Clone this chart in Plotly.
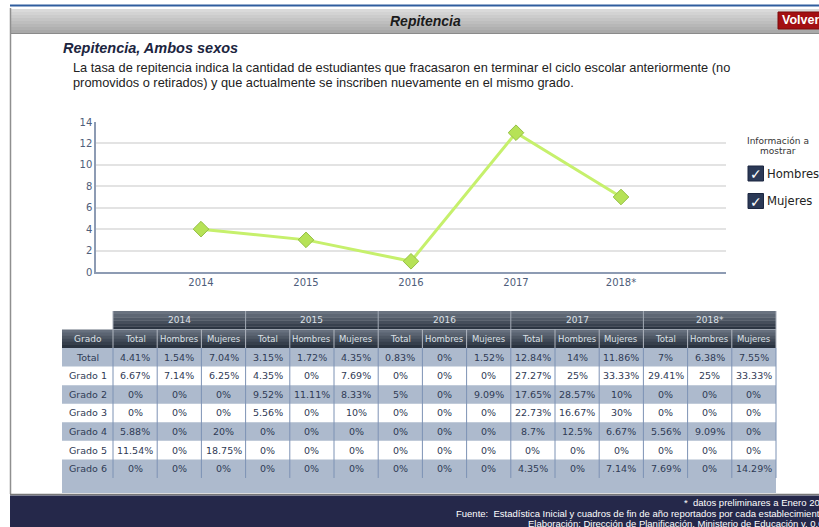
import plotly.graph_objects as go

# ---------------- data ----------------
years = ["2014", "2015", "2016", "2017", "2018*"]
chart_values = [4, 3, 1, 13, 7]
y_tick_values = [0, 2, 4, 6, 8, 10, 12, 14]

sub_headers = ["Total", "Hombres", "Mujeres"]
grades = ["Total", "Grado 1", "Grado 2", "Grado 3", "Grado 4", "Grado 5", "Grado 6"]

rates_2014 = [[4.41, 1.54, 7.04], [6.67, 7.14, 6.25], [0, 0, 0], [0, 0, 0],
              [5.88, 0, 20], [11.54, 0, 18.75], [0, 0, 0]]
rates_2015 = [[3.15, 1.72, 4.35], [4.35, 0, 7.69], [9.52, 11.11, 8.33], [5.56, 0, 10],
              [0, 0, 0], [0, 0, 0], [0, 0, 0]]
rates_2016 = [[0.83, 0, 1.52], [0, 0, 0], [5, 0, 9.09], [0, 0, 0],
              [0, 0, 0], [0, 0, 0], [0, 0, 0]]
rates_2017 = [[12.84, 14, 11.86], [27.27, 25, 33.33], [17.65, 28.57, 10], [22.73, 16.67, 30],
              [8.7, 12.5, 6.67], [0, 0, 0], [4.35, 0, 7.14]]
rates_2018 = [[7, 6.38, 7.55], [29.41, 25, 33.33], [0, 0, 0], [0, 0, 0],
              [5.56, 9.09, 0], [0, 0, 0], [7.69, 0, 14.29]]
table_rates = [rates_2014, rates_2015, rates_2016, rates_2017, rates_2018]

page_title = "Repitencia"
subtitle = "Repitencia, Ambos sexos"
description = [
    "La tasa de repitencia indica la cantidad de estudiantes que fracasaron en terminar el ciclo escolar anteriormente (no",
    "promovidos o retirados) y que actualmente se inscriben nuevamente en el mismo grado.",
]
legend_title = ["Información a", "mostrar"]
legend_items = ["Hombres", "Mujeres"]
footer_lines = [
    "*  datos preliminares a Enero 2019",
    "Fuente:  Estadística Inicial y cuadros de fin de año reportados por cada establecimiento",
    "Elaboración: Dirección de Planificación, Ministerio de Educación v. 0.0004",
]

# ---------------- geometry helpers ----------------
W, H = 819, 527
PL, PR, PT, PB = 96, 726, 122, 272  # plot area in pixels


def X(px):
    return (px - PL) / (PR - PL)


def Y(py):
    return (PB - py) / (PB - PT)


shapes = []
annotations = []


def rect(x0, y0, x1, y1, fill, line=None, lw=0):
    shapes.append(dict(type="rect", xref="paper", yref="paper",
                       x0=X(x0), x1=X(x1), y0=Y(y1), y1=Y(y0),
                       fillcolor=fill, line=dict(width=lw, color=line or fill),
                       layer="below"))


def hline(x0, x1, y, color, w=1):
    shapes.append(dict(type="line", xref="paper", yref="paper",
                       x0=X(x0), x1=X(x1), y0=Y(y), y1=Y(y),
                       line=dict(color=color, width=w), layer="below"))


def vline(x, y0, y1, color, w=1):
    shapes.append(dict(type="line", xref="paper", yref="paper",
                       x0=X(x), x1=X(x), y0=Y(y0), y1=Y(y1),
                       line=dict(color=color, width=w), layer="below"))


def text(x, y, s, size=10, color="#222", family="DejaVu Sans", xanchor="center",
         weight="normal", style="normal"):
    annotations.append(dict(x=X(x), y=Y(y), xref="paper", yref="paper", text=s,
                            showarrow=False, xanchor=xanchor, yanchor="middle",
                            borderpad=0,
                            font=dict(size=size, color=color, family=family,
                                      weight=weight, style=style)))


def hexmix(c0, c1, t):
    a = [int(c0[i:i + 2], 16) for i in (1, 3, 5)]
    b = [int(c1[i:i + 2], 16) for i in (1, 3, 5)]
    return "#" + "".join(f"{round(a[k] + (b[k] - a[k]) * t):02x}" for k in range(3))


def gradient(x0, y0, x1, y1, ctop, cbot, n=8):
    h = (y1 - y0) / n
    for i in range(n):
        rect(x0, y0 + i * h, x1, y0 + (i + 1) * h + 0.3, hexmix(ctop, cbot, i / (n - 1)))


# ---------------- page chrome ----------------
hline(10, 830, 5.5, "#2f5d9e", 2)
gradient(10, 9, 830, 33, "#dadada", "#a9a9a9", 8)
hline(10, 830, 33.5, "#8a8a8a", 1)
vline(10.5, 8, 494, "#8f8f8f", 1.5)
text(425, 21, page_title, size=14, color="#1b1b1b", family="Liberation Sans",
     weight="bold", style="italic")
rect(778, 12, 830, 29, "#a30f12", "#7a0a0a", 1)
text(781, 20.5, "Volver", size=12.5, color="white", family="Liberation Sans",
     xanchor="left", weight="bold")

text(62, 48, subtitle, size=14.5, color="#1c2540", family="Liberation Sans",
     xanchor="left", weight="bold", style="italic")
text(72, 67, description[0], size=12.8, color="#222", family="Liberation Sans", xanchor="left")
text(72, 82, description[1], size=12.8, color="#222", family="Liberation Sans", xanchor="left")

# legend (checkbox panel)
text(778, 141, legend_title[0], size=9, color="#333", family="DejaVu Sans")
text(778, 151, legend_title[1], size=9, color="#333", family="DejaVu Sans")
for k, label in enumerate(legend_items):
    cy = 173.5 + k * 27.5
    rect(748, cy - 7.5, 763.5, cy + 7.5, "#2b3956", "#1c2740", 1)
    text(755.8, cy + 0.5, "<b>✓</b>", size=14, color="white", family="DejaVu Sans")
    text(766, cy, label, size=11.6, color="#222", family="DejaVu Sans", xanchor="left")

# ---------------- table ----------------
T_LEFT, T_GRADO_R, T_RIGHT = 62, 113, 776
GROUP_W = (T_RIGHT - T_GRADO_R) / len(years)
SUB_W = GROUP_W / len(sub_headers)
HDR1_TOP, HDR2_TOP, BODY_TOP = 311, 329.5, 348
ROW_H = 18.57
BODY_BOTTOM = 493

gradient(T_GRADO_R, HDR1_TOP, T_RIGHT, HDR2_TOP, "#6a7380", "#2c3542", 6)
gradient(T_LEFT, HDR2_TOP, T_RIGHT, BODY_TOP, "#67707e", "#2a3340", 6)
rect(T_LEFT, BODY_TOP, T_RIGHT, BODY_BOTTOM, "#adbacd")
for r in range(len(grades)):
    if r % 2 == 1:
        rect(T_LEFT, BODY_TOP + r * ROW_H, T_RIGHT, BODY_TOP + (r + 1) * ROW_H, "#ffffff")
hline(T_GRADO_R, T_RIGHT, HDR2_TOP, "#9aa2ad", 1)

body_bottom_rows = BODY_TOP + len(grades) * ROW_H
for g in range(len(years) + 1):
    gx = T_GRADO_R + g * GROUP_W
    vline(gx, HDR1_TOP, HDR2_TOP, "#a3aab5", 1)
for c in range(len(years) * len(sub_headers) + 1):
    cx = T_GRADO_R + c * SUB_W
    vline(cx, HDR2_TOP, BODY_TOP, "#b0b6bf", 1)
    vline(cx, BODY_TOP, body_bottom_rows, "#7d92b4", 1)

hdr_color = "#dde1e7"
text((T_LEFT + T_GRADO_R) / 2, (HDR2_TOP + BODY_TOP) / 2, "Grado", size=9, color=hdr_color)
for g, yr in enumerate(years):
    gx0 = T_GRADO_R + g * GROUP_W
    text(gx0 + GROUP_W / 2, (HDR1_TOP + HDR2_TOP) / 2, yr, size=9, color=hdr_color)
    for j, sh in enumerate(sub_headers):
        text(gx0 + (j + 0.5) * SUB_W, (HDR2_TOP + BODY_TOP) / 2, sh, size=8.5, color=hdr_color)

cell_color = "#2f3a55"
for r, grade in enumerate(grades):
    cy = BODY_TOP + (r + 0.5) * ROW_H
    text((T_LEFT + T_GRADO_R) / 2, cy, grade, size=9.5, color=cell_color)
    for g, rates in enumerate(table_rates):
        for j in range(len(sub_headers)):
            v = rates[r][j]
            text(T_GRADO_R + g * GROUP_W + (j + 0.5) * SUB_W, cy, f"{v:g}%",
                 size=9.5, color=cell_color)

# ---------------- footer ----------------
hline(10, 830, 494.5, "#777", 1.5)
rect(10, 495.5, 830, 530, "#25284a")
foot_font = "Liberation Sans Narrow, Liberation Sans"
text(831, 502.5, footer_lines[0], size=9.5, color="white", family=foot_font, xanchor="right")
text(826, 513, footer_lines[1], size=9.5, color="white", family=foot_font, xanchor="right")
text(840, 523.5, footer_lines[2], size=9.5, color="white", family=foot_font, xanchor="right")

# ---------------- chart ----------------
x_pos = list(range(1, len(years) + 1))
fig = go.Figure()
fig.add_trace(go.Scatter(
    x=x_pos, y=chart_values, mode="lines+markers",
    line=dict(color="#c6f06c", width=3),
    marker=dict(symbol="diamond", size=12, color="#b6e257",
                line=dict(color="#94bf44", width=1)),
    hoverinfo="skip", showlegend=False, cliponaxis=False,
))

axis_color = "#8d9bb3"
tick_font = dict(size=10, color="#4e5d7a", family="DejaVu Sans")
fig.update_layout(
    width=W, height=H,
    margin=dict(l=PL, r=W - PR, t=PT, b=H - PB, autoexpand=False),
    paper_bgcolor="white", plot_bgcolor="white",
    shapes=shapes, annotations=annotations,
    xaxis=dict(range=[0, 6], tickvals=x_pos, ticktext=years, showgrid=False,
               zeroline=False, showline=True, linecolor=axis_color, linewidth=2,
               ticks="", tickfont=tick_font, fixedrange=True),
    yaxis=dict(range=[0, 14], tickvals=y_tick_values, showgrid=True,
               gridcolor="#e3e3e3", gridwidth=1.5, zeroline=False, showline=True,
               linecolor=axis_color, linewidth=1.5, ticks="", ticklen=0,
               tickfont=tick_font, fixedrange=True),
)

fig.write_html(
    "out.html",
    config={"displayModeBar": False},
    post_script="document.body.style.margin='0';document.body.style.overflow='hidden';",
)
